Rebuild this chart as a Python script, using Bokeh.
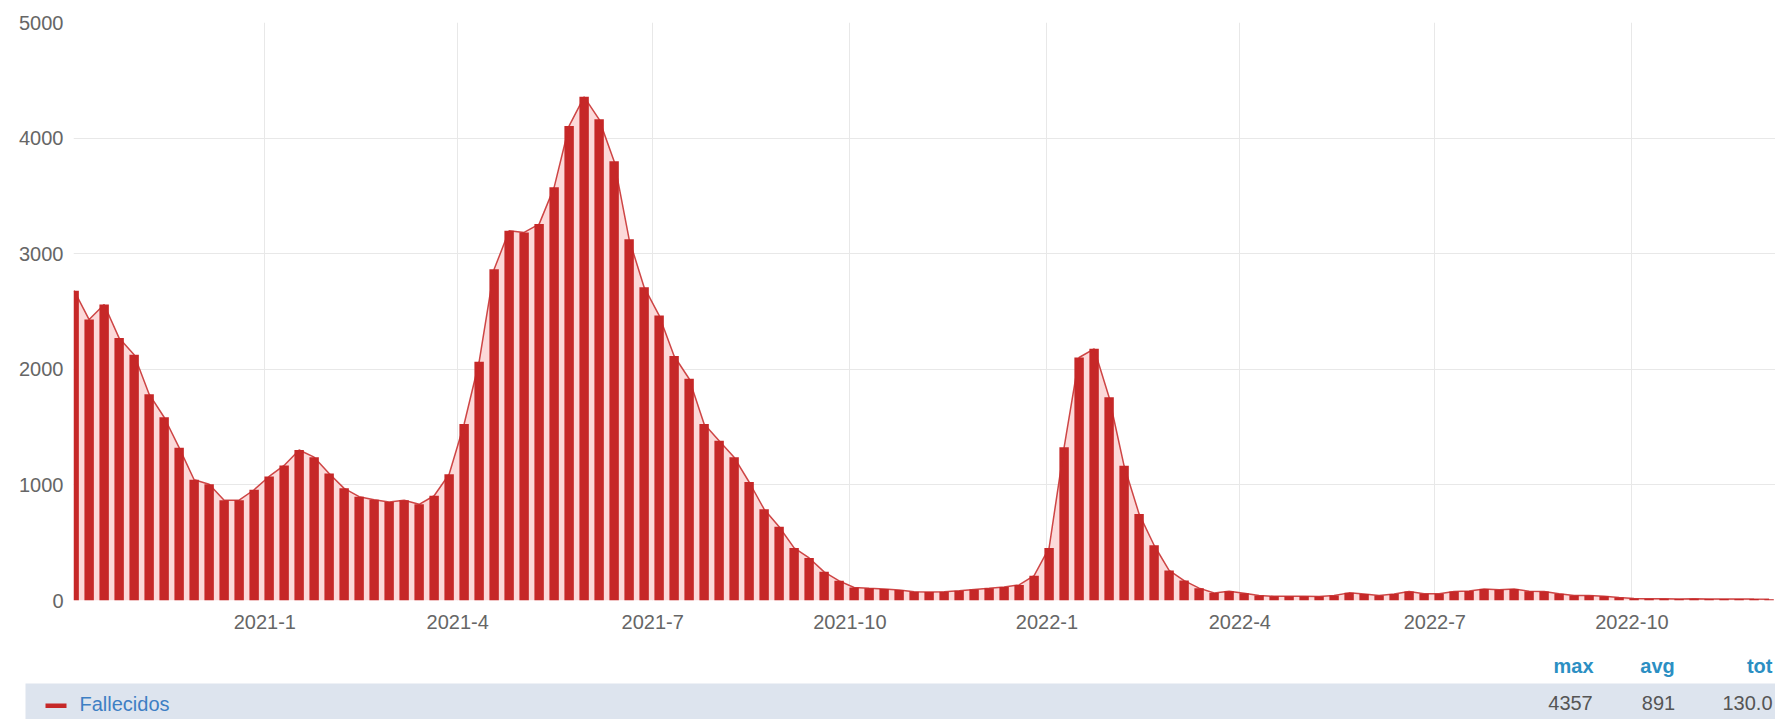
import pandas as pd
from bokeh.plotting import figure
from bokeh.models import Range1d, FixedTicker, ColumnDataSource, Label
from bokeh.layouts import column
from bokeh.embed import file_html
from bokeh.resources import INLINE

# ---------------- data ----------------
series_name = "Fallecidos"
first_week = "2020-10-04"
fallecidos = [
    2680, 2430, 2560, 2270, 2125, 1785, 1585, 1322, 1045, 1005,
    868, 868, 958, 1073, 1168, 1302, 1240, 1098, 970, 898,
    872, 852, 868, 832, 906, 1092, 1527, 2065, 2865, 3198,
    3184, 3256, 3574, 4105, 4357, 4162, 3800, 3126, 2710, 2466,
    2115, 1918, 1527, 1382, 1239, 1025, 790, 638, 455, 368,
    248, 170, 112, 105, 100, 90, 76, 74, 75, 84,
    95, 105, 116, 135, 215, 455, 1325, 2102, 2177, 1758,
    1165, 749, 478, 260, 172, 107, 65, 80, 62, 43,
    37, 37, 37, 34, 43, 66, 57, 43, 57, 78,
    58, 58, 78, 83, 100, 92, 100, 81, 78, 58,
    43, 43, 37, 25, 18, 16, 15, 14, 15, 13,
    12, 14, 12, 11,
]
y_ticks = [0, 1000, 2000, 3000, 4000, 5000]
x_tick_dates = ["2021-01-01", "2021-04-01", "2021-07-01", "2021-10-01",
                "2022-01-01", "2022-04-01", "2022-07-01", "2022-10-01"]
x_tick_labels = ["2021-1", "2021-4", "2021-7", "2021-10",
                 "2022-1", "2022-4", "2022-7", "2022-10"]
stat_headers = ["max", "avg", "tot"]
stat_values = ["4357", "891", "130.0"]

# ---------------- helpers ----------------
DAY = 86400000.0


def ms(d):
    return pd.Timestamp(d).value / 1e6


dates = pd.date_range(first_week, periods=len(fallecidos), freq="7D")
xs = [ts.value / 1e6 for ts in dates]
src = ColumnDataSource(dict(x=xs, y=fallecidos))

RED = "#c62828"
PINK = "#fcd9d9"
GRAY = "#666666"
FONT = "Liberation Sans"
W = 1775

x_start = ms(first_week) - 0.3 * DAY
x_end = ms("2022-12-07")

p = figure(width=W, height=648, output_backend="svg", toolbar_location=None,
           x_range=Range1d(x_start, x_end), y_range=Range1d(0, 5000),
           min_border_left=73, min_border_right=0, min_border_top=22,
           min_border_bottom=48)
p.frame_align = False
p.outline_line_color = None
p.background_fill_color = "white"
p.border_fill_color = "white"

p.varea(x="x", y1=0, y2="y", source=src, fill_color=PINK, fill_alpha=1.0)
p.vbar(x="x", top="y", width=4.4 * DAY, source=src, fill_color=RED,
       line_color=None)
p.line(x="x", y="y", source=src, line_color=RED, line_width=1.5, line_alpha=0.85)

x_tick_ms = [ms(d) for d in x_tick_dates]
p.xaxis.ticker = FixedTicker(ticks=x_tick_ms)
p.xaxis.major_label_overrides = {t: lab for t, lab in zip(x_tick_ms, x_tick_labels)}
p.yaxis.ticker = FixedTicker(ticks=y_ticks)
p.xgrid.ticker = FixedTicker(ticks=x_tick_ms)
p.ygrid.ticker = FixedTicker(ticks=y_ticks)

for ax in (p.xaxis, p.yaxis):
    ax.axis_line_color = None
    ax.major_tick_line_color = None
    ax.minor_tick_line_color = None
    ax.major_tick_out = 0
    ax.major_tick_in = 0
    ax.major_label_text_font = FONT
    ax.major_label_text_font_size = "20px"
    ax.major_label_text_color = GRAY
p.yaxis.major_label_standoff = 10
p.xaxis.major_label_standoff = 14

for g in (p.xgrid, p.ygrid):
    g.grid_line_color = "#e8e8e8"
    g.grid_line_width = 1

# ---------------- legend table ----------------
LH = 71
L = figure(width=W, height=LH, output_backend="svg", toolbar_location=None,
           x_range=Range1d(0, W), y_range=Range1d(LH, 0),
           min_border_left=0, min_border_right=0, min_border_top=0,
           min_border_bottom=0)
L.frame_align = False
L.axis.visible = False
L.grid.visible = False
L.outline_line_color = None
L.background_fill_color = "white"
L.border_fill_color = "white"

L.quad(left=25, right=W, top=35, bottom=LH, fill_color="#dde4ee",
       line_color=None)
L.quad(left=45, right=66, top=55, bottom=59.5, fill_color=RED, line_color=None)
L.add_layout(Label(x=79, y=55, text=series_name, text_font=FONT,
                   text_font_size="20px", text_color="#3d7fc4",
                   text_align="left", text_baseline="middle"))

head_x = [1573, 1657, 1772]
head_align = ["center", "center", "right"]
val_x = [1570, 1658, 1772]
for hx, ha, h in zip(head_x, head_align, stat_headers):
    L.add_layout(Label(x=hx, y=17, text=h, text_font=FONT, text_font_size="20px",
                       text_font_style="bold", text_color="#2b8fc3",
                       text_align=ha, text_baseline="middle"))
for vx, ha, v in zip(val_x, head_align, stat_values):
    L.add_layout(Label(x=vx, y=54, text=v, text_font=FONT, text_font_size="20px",
                       text_color="#555555", text_align=ha,
                       text_baseline="middle"))

layout = column(p, L, spacing=0)
open("out.html", "w").write(file_html(layout, INLINE))
